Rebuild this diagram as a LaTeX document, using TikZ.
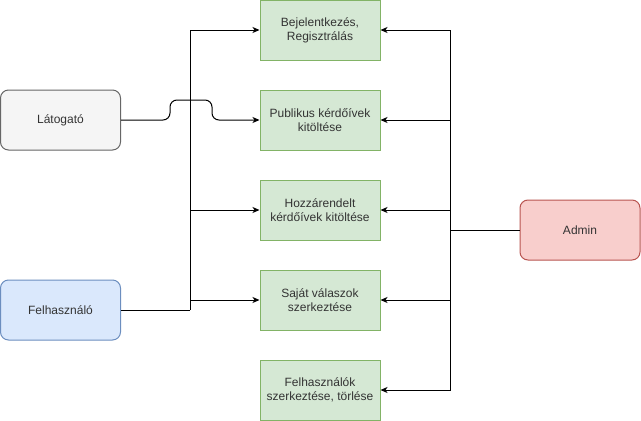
\documentclass[tikz,border=0pt]{standalone}
\usepackage{fontspec}
\setmainfont{Liberation Sans}
\usetikzlibrary{arrows.meta}
\definecolor{grnfill}{HTML}{D5E8D4}
\definecolor{grnline}{HTML}{82B366}
\definecolor{gryfill}{HTML}{F5F5F5}
\definecolor{gryline}{HTML}{666666}
\definecolor{blufill}{HTML}{DAE8FC}
\definecolor{bluline}{HTML}{6C8EBF}
\definecolor{redfill}{HTML}{F8CECC}
\definecolor{redline}{HTML}{B85450}
\begin{document}
\begin{tikzpicture}[x=1pt,y=-1pt,
  every node/.style={font=\fontsize{12}{14}\selectfont, text=black!80, align=center, inner sep=0pt},
  usecase/.style={draw=grnline, fill=grnfill, line width=1pt, minimum width=120pt, minimum height=60pt},
  actor/.style={rounded corners=8pt, line width=1pt, minimum width=120pt, minimum height=60pt},
  conn/.style={line width=1pt, draw=black},
  arr/.style={conn, -{Stealth[length=7pt,width=6pt,inset=2pt]}}]
  \useasboundingbox (0,0) rectangle (641,421);

  % use cases
  \node[usecase] (b1) at (320,30)  {Bejelentkezés,\\Regisztrálás};
  \node[usecase] (b2) at (320,120) {Publikus kérdőívek\\kitöltése};
  \node[usecase] (b3) at (320,210) {Hozzárendelt\\kérdőívek kitöltése};
  \node[usecase] (b4) at (320,300) {Saját válaszok\\szerkeztése};
  \node[usecase] (b5) at (320,390) {Felhasználók\\szerkeztése, törlése};

  % actors
  \node[actor, draw=gryline, fill=gryfill] (lat) at (60.5,120) {Látogató};
  \node[actor, draw=bluline, fill=blufill] (fel) at (60.5,310) {Felhasználó};
  \node[actor, draw=redline, fill=redfill] (adm) at (580,230) {Admin};

  % junction points
  \coordinate (fj3) at (190,210);
  \coordinate (fj4) at (190,300);
  \coordinate (ftrunk) at (fj3 |- fel.east);
  \coordinate (aj2) at (450,120);
  \coordinate (aj3) at (450,210);
  \coordinate (aj4) at (450,300);
  \coordinate (atrunk) at (aj3 |- adm.west);

  % Felhasználó connectors
  \draw[conn] (fel.east) -- (ftrunk);
  \draw[arr] (ftrunk) |- (b1.west);
  \draw[arr] (fj3) -- (b3.west);
  \draw[arr] (fj4) -- (b4.west);

  % Látogató connector, jumping over the trunk
  \draw[arr, rounded corners=7pt] (lat.east) -- (170,120) -- (170,100) -- (212,100) -- (212,120) -- (b2.west);

  % Admin connectors
  \draw[conn] (adm.west) -- (atrunk);
  \draw[arr] (atrunk) |- (b1.east);
  \draw[arr] (atrunk) |- (b5.east);
  \draw[arr] (aj2) -- (b2.east);
  \draw[arr] (aj3) -- (b3.east);
  \draw[arr] (aj4) -- (b4.east);
\end{tikzpicture}
\end{document}
